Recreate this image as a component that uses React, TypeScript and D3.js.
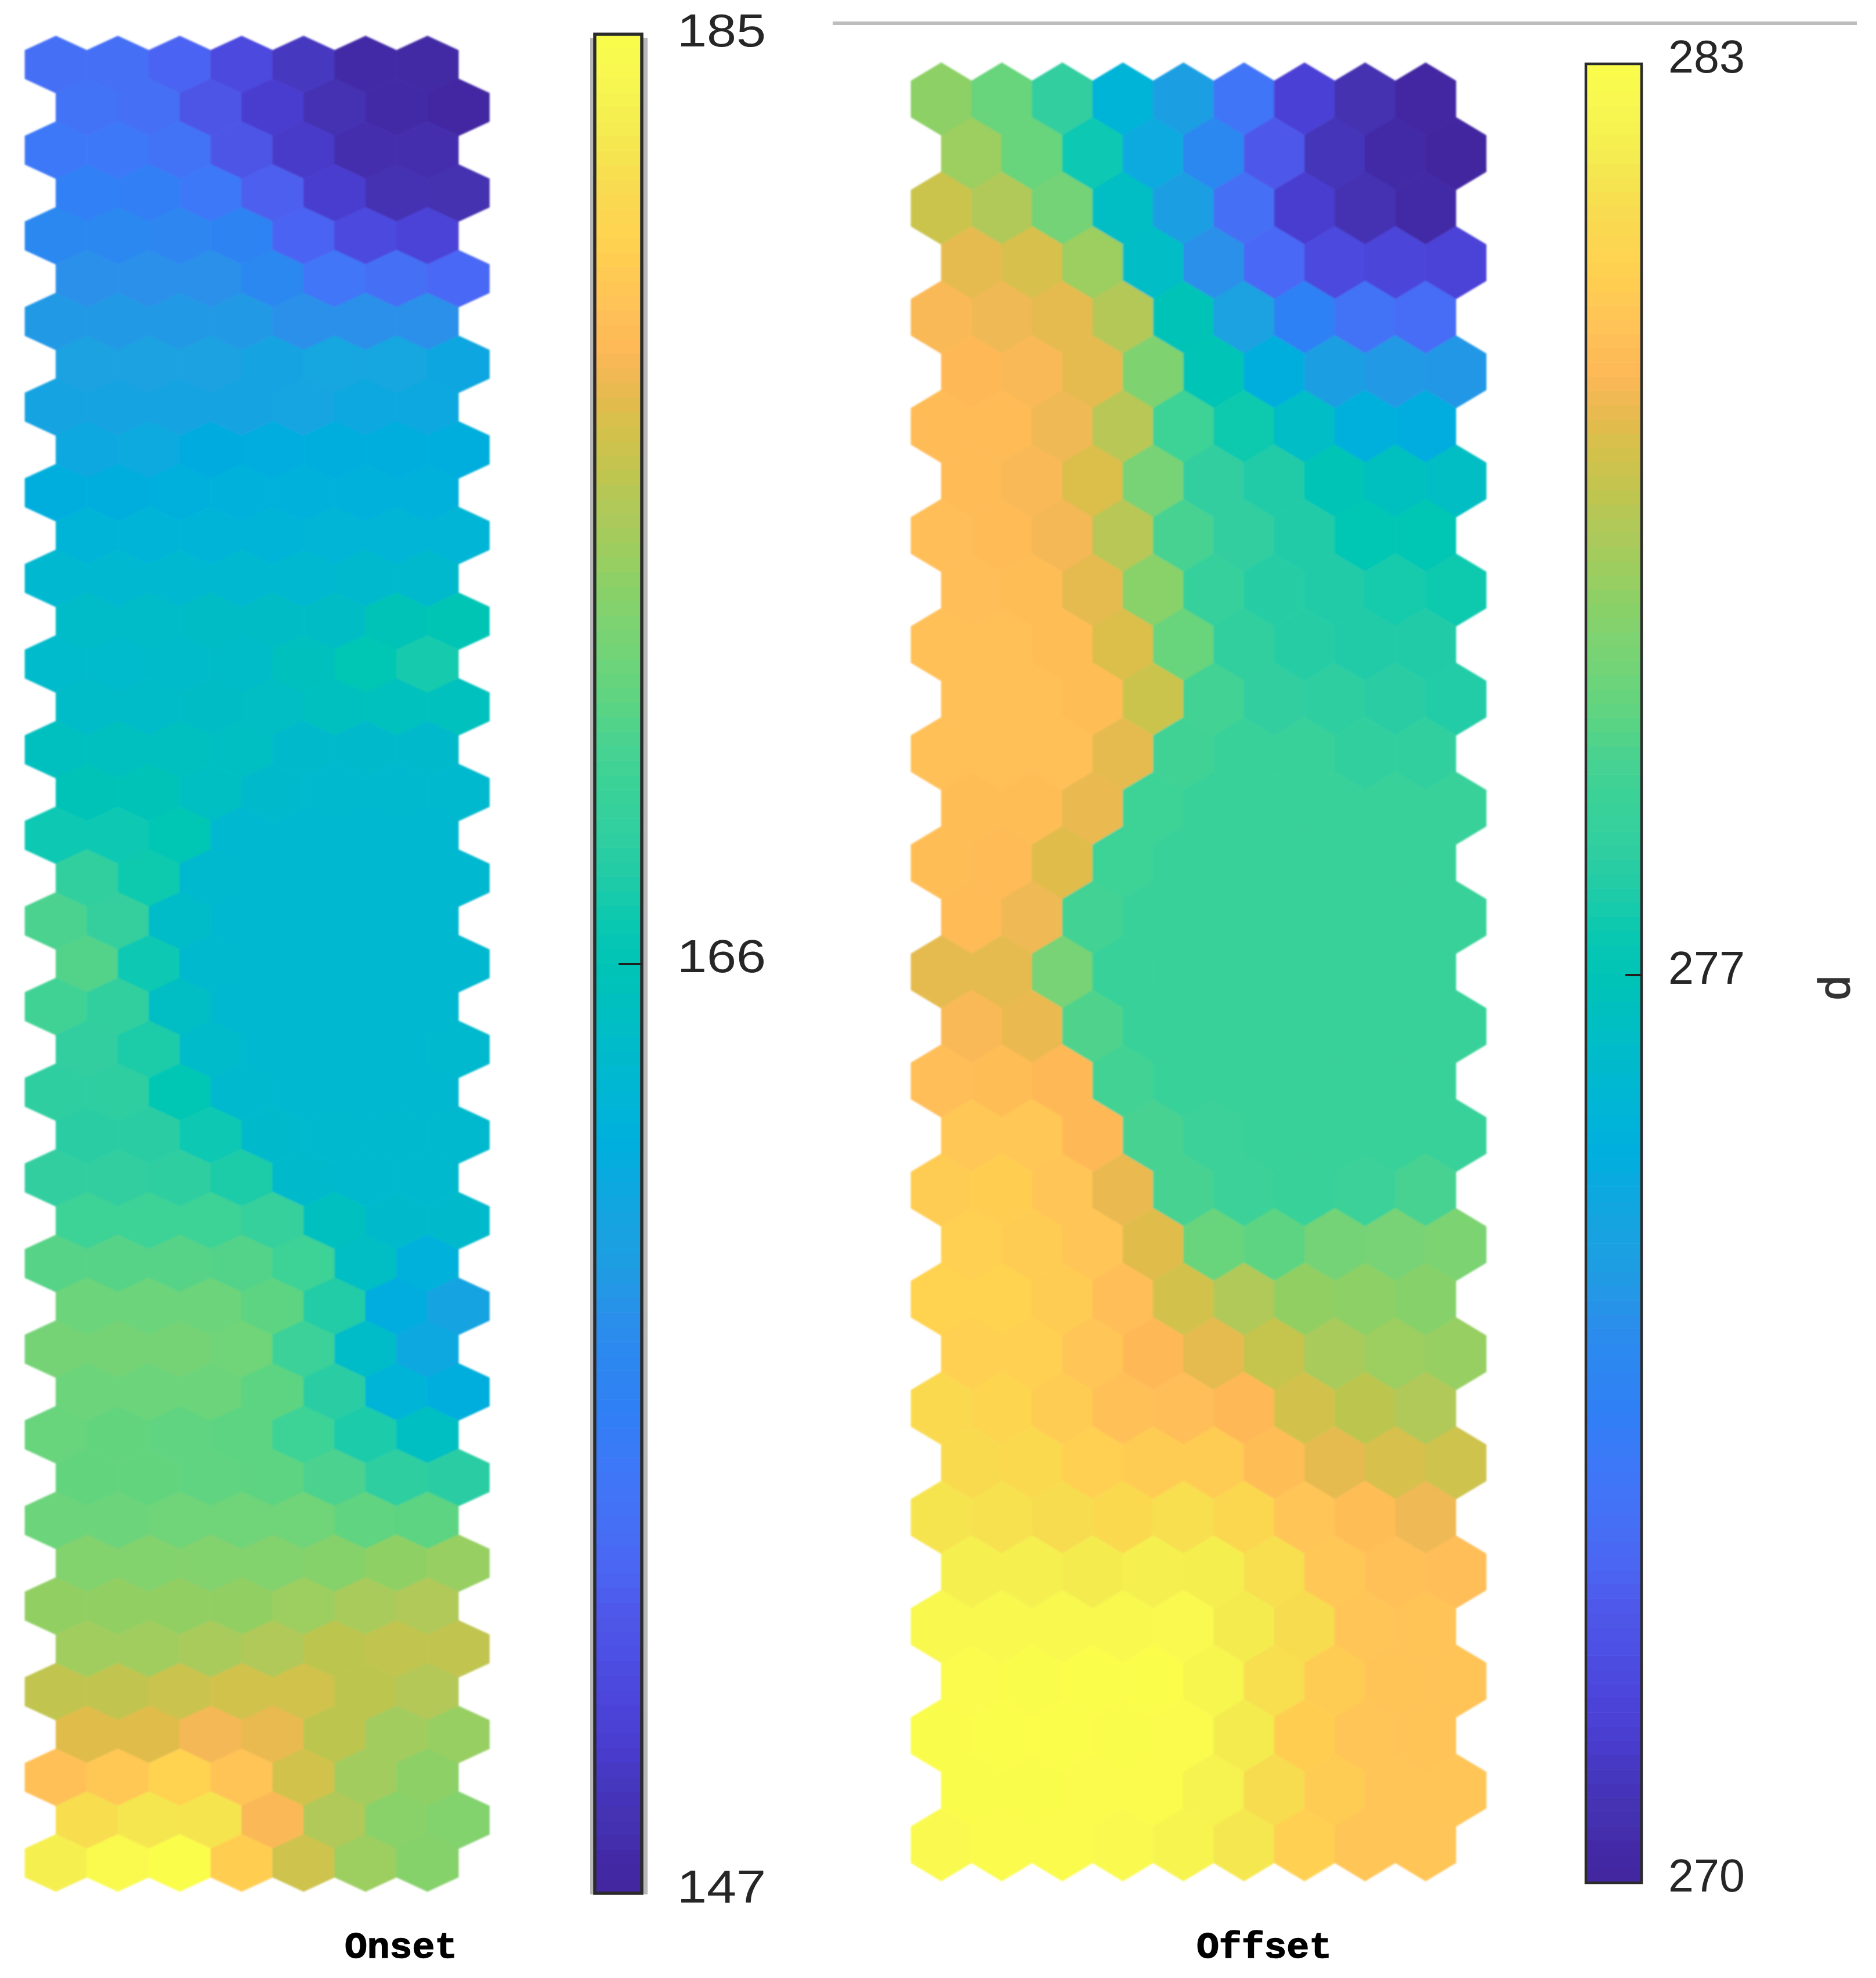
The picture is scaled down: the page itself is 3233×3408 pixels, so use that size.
import React from "react";
import * as d3 from "d3";

const onsetDomain = [147, 185];
const offsetDomain = [270, 283];
const onsetTicks = ["147", "166", "185"];
const offsetTicks = ["270", "277", "283"];

const onsetRows: number[][] = [
  [154.6,154.6,153.5,151.2,149.3,147.8,147.6],
  [155,154.6,152.3,150,148.5,147.8,147.4],
  [155.7,155.7,155,152.3,149.7,148.1,148.1],
  [156.9,156.7,155.7,153.1,150,148.5,148.3],
  [158,158,157.8,157.3,153.5,151.2,150.6],
  [158.8,158.8,158.8,158,155.4,154.6,153.8],
  [159.5,159.5,159.5,159.5,158.8,158.8,158.8],
  [160.3,160.3,160.3,160.7,161,161,161.1],
  [160.7,160.7,160.7,160.7,160.9,161.4,161.4],
  [161.4,161.6,161.8,162,162.2,162.2,162.2],
  [162.2,162.2,162.4,162.6,162.6,162.6,162.6],
  [163,163,163,163,163.2,163.2,163.2],
  [163.7,163.7,163.7,163.7,163.7,164,164],
  [164.5,164.5,164.7,164.7,164.7,165.8,166.2],
  [164.2,164.2,164.3,164.5,165.3,166.4,167.2],
  [164.5,164.5,164.7,164.9,165.2,165.4,165.4],
  [165.2,165.2,165.2,165,164.1,164.1,164.1],
  [165.8,165.8,165,164.1,163.9,163.9,163.9],
  [166.8,166.8,166.4,163.7,163.7,163.7,163.7],
  [168.9,167.1,163.9,163.7,163.7,163.7,163.7],
  [170.6,169,164.5,163.7,163.7,163.7,163.7],
  [170.9,166.8,163.9,163.7,163.7,163.7,163.7],
  [170,168.9,164.9,163.7,163.7,163.7,163.7],
  [168.7,167.7,164.3,163.7,163.7,163.7,163.9],
  [168.5,168.5,166.6,163.9,163.7,163.7,163.7],
  [168.3,168.3,166.8,164.1,163.9,163.9,163.9],
  [168.7,168.7,168.5,167.7,164.1,163.9,163.9],
  [169.8,169.8,169.8,169.2,165.2,164.1,164.1],
  [171.1,171.1,171.1,170.9,169.8,164.9,162.6],
  [172.1,172.1,172.1,171.3,167.9,162,160.7],
  [172.5,172.5,172.5,172.3,169.6,164.5,161.3],
  [172.1,172.1,172.1,171.3,168.3,163,162.2],
  [171.9,171.7,171.5,171.3,169.8,167.5,165],
  [171.7,171.7,171.5,171.3,170.6,168.5,168.3],
  [172.1,172.1,172.3,172.3,172.3,171.5,171.3],
  [173.2,173.2,173.2,173.2,173.4,173.9,174.2],
  [174,174,174,174,174.4,175,175.3],
  [174.6,174.6,175,175.3,175.9,176.1,176.1],
  [176.1,176.1,176.5,176.8,176.8,175.9,175.5],
  [177.4,177.4,178.2,177.7,175.9,174.7,174.2],
  [179.3,179.9,180.8,179.5,176.8,174.7,173.8],
  [182,182.7,182.5,178.4,175.3,173.6,173.2],
  [183.5,184.6,185,180.4,176.6,174.4,173.4],
];

const offsetRows: number[][] = [
  [279.17,278.52,277.41,275.46,274.42,272.8,271.17,270.46,270.13],
  [279.36,278.52,276.76,275.01,273.77,271.95,270.65,270.26,270.07],
  [280.08,279.69,278.71,276.11,274.42,272.6,271.04,270.52,270.26],
  [280.47,280.27,279.36,276.05,274.03,272.34,271.43,271.3,271.24],
  [280.73,280.6,280.47,279.75,276.44,274.55,273.45,272.73,272.47],
  [280.79,280.73,280.47,278.91,276.5,275.2,274.42,274.29,274.23],
  [280.86,280.86,280.6,279.82,277.8,276.89,276.05,275.27,275.14],
  [280.86,280.73,280.34,278.78,277.41,277.09,276.5,276.24,276.11],
  [280.99,280.86,280.66,279.82,277.99,277.41,277.09,276.63,276.63],
  [280.99,280.92,280.47,279.1,277.61,277.22,277.09,276.96,276.89],
  [281.05,281.05,280.92,280.34,278.52,277.48,277.22,277.09,277.09],
  [281.05,281.05,280.92,280.08,277.93,277.41,277.35,277.28,277.15],
  [281.05,281.05,281.05,280.47,277.87,277.67,277.67,277.48,277.48],
  [280.92,280.92,280.53,277.8,277.67,277.67,277.67,277.67,277.67],
  [280.92,280.86,280.4,277.8,277.67,277.67,277.67,277.67,277.67],
  [280.86,280.6,277.93,277.67,277.67,277.67,277.67,277.67,277.67],
  [280.47,280.47,278.78,277.67,277.67,277.67,277.67,277.67,277.67],
  [280.73,280.53,278.13,277.67,277.67,277.67,277.67,277.67,277.67],
  [280.99,280.92,280.79,277.93,277.67,277.67,277.67,277.67,277.67],
  [281.25,281.25,280.79,277.99,277.74,277.67,277.67,277.67,277.67],
  [281.38,281.44,281.18,280.53,277.99,277.74,277.67,277.74,277.99],
  [281.51,281.38,281.18,280.4,278.52,278.32,278.71,278.78,278.84],
  [281.57,281.57,281.38,280.99,280.21,279.69,279.23,279.17,279.04],
  [281.51,281.51,281.18,280.79,280.47,280.01,279.56,279.36,279.3],
  [281.83,281.7,281.38,281.05,280.99,280.79,280.21,279.88,279.69],
  [281.9,281.83,281.51,281.38,281.38,280.92,280.47,280.27,280.14],
  [282.16,282.09,281.96,281.83,282.03,281.77,281.18,280.92,280.6],
  [282.48,282.48,282.35,282.48,282.42,282.03,281.25,281.05,280.99],
  [282.74,282.74,282.74,282.74,282.81,282.35,281.96,281.18,281.12],
  [282.87,282.94,283,283,282.68,282.03,281.38,281.12,281.12],
  [282.94,283,283,282.94,282.87,282.35,281.44,281.18,281.12],
  [282.94,282.94,282.87,282.87,282.55,281.96,281.38,281.18,281.18],
  [282.81,282.87,282.87,282.81,282.61,282.22,281.51,281.18,281.18],
];

const cmapStops = [0, 0.005, 0.02, 0.03, 0.05, 0.08, 0.11, 0.15, 0.18, 0.2, 0.23, 0.26, 0.29, 0.31, 0.34, 0.37, 0.4, 0.42, 0.46, 0.5, 0.52, 0.55, 0.57, 0.6, 0.62, 0.64, 0.66, 0.69, 0.705, 0.72, 0.75, 0.76, 0.785, 0.8, 0.82, 0.83, 0.85, 0.875, 0.89, 0.92, 0.95, 0.98, 1];
const cmapColors = ["#41259E", "#4228A0", "#4329A6", "#4430AE", "#4534B8", "#4A3DD0", "#4C48DE", "#4E58EA", "#4A68F5", "#4570F5", "#3C78F8", "#3080F5", "#2C88F0", "#2A90EA", "#1E9EE2", "#12A6E0", "#00AEDE", "#00B4D8", "#00BCC8", "#00C4B6", "#08C8B2", "#24CCA6", "#30CEA0", "#3CD296", "#4AD290", "#5CD482", "#6CD47A", "#82D26E", "#8CD066", "#9CCE60", "#B4C858", "#BCC650", "#D2C24C", "#E0BC4C", "#F4B856", "#FEB956", "#FFC058", "#FFCC52", "#FFD250", "#F8DC50", "#F4EC50", "#F8F850", "#FBFD4B"];
const cmap = d3.scaleLinear<string>().domain(cmapStops).range(cmapColors).interpolate(d3.interpolateRgb).clamp(true);

const FONT_SANS = "'Liberation Sans', Arial, sans-serif";
const FONT_MONO = "'Liberation Mono', 'DejaVu Sans Mono', monospace";
const levels = d3.range(128);

function Panel({ rows, domain, ticks, title, g }: any) {
  const nRows = rows.length;
  const nCols = rows[0].length;
  const xs = d3.scaleLinear().domain([0, nCols]).range([g.hexLeft, g.hexRight]);
  const cw = xs(1) - xs(0);
  const ys = d3.scaleLinear().domain([0, nRows - 1]).range([g.hexTop + g.hexH / 2, g.hexBottom - g.hexH / 2]);
  const t = d3.scaleLinear().domain(domain).range([0, 1]);
  const hex = (cx: number, cy: number) => {
    const w = cw / 2, h = g.hexH / 2;
    const pts: [number, number][] = [[cx, cy - h], [cx + w, cy - h / 2], [cx + w, cy + h / 2], [cx, cy + h], [cx - w, cy + h / 2], [cx - w, cy - h / 2]];
    return d3.line()(pts) + "Z";
  };
  const yBar = d3.scaleLinear().domain([0, levels.length]).range([g.barBottom, g.barTop]);
  return (
    <g>
      {g.shadow && (
        <g fill="#b8b8b8">
          <rect x={g.barLeft - 8} y={g.barTop + 6} width={6} height={g.barBottom - g.barTop - 4} />
          <rect x={g.barRight + 2} y={g.barTop + 6} width={8} height={g.barBottom - g.barTop - 4} />
        </g>
      )}
      <g filter="url(#soft)">
        {rows.map((row: number[], r: number) =>
          row.map((v: number, c: number) => {
            const col = cmap(t(v));
            const cx = xs(c) + cw / 2 + (r % 2 ? cw / 2 : 0);
            return <path key={r + "-" + c} d={hex(cx, ys(r))} fill={col} stroke={col} strokeWidth={0.8} />;
          })
        )}
      </g>
      {levels.map((i) => (
        <rect key={i} x={g.barLeft} width={g.barRight - g.barLeft} y={yBar(i + 1)} height={yBar(i) - yBar(i + 1) + 0.6} fill={cmap((i + 0.5) / levels.length)} />
      ))}
      <rect x={g.barLeft} y={g.barTop} width={g.barRight - g.barLeft} height={g.barBottom - g.barTop} fill="none" stroke="#2b2b2b" strokeWidth={g.barStroke} />
      <line x1={g.tickX} x2={g.barRight} y1={g.tickY} y2={g.tickY} stroke="#1f1f1f" strokeWidth={4} />
      {ticks.map((s: string, i: number) => (
        <text key={s} x={g.labelX} y={g.labelY[i]} fontFamily={FONT_SANS} fontSize={79} fill="#262626" textLength={g.labelW} lengthAdjust="spacingAndGlyphs">{s}</text>
      ))}
      <text x={g.titleX} y={3373} fontFamily={FONT_MONO} fontWeight="bold" fontSize={63} fill="#000" stroke="#000" strokeWidth={1.5} textLength={g.titleW} lengthAdjust="spacingAndGlyphs">{title}</text>
    </g>
  );
}

const onsetGeom = { hexLeft: 43, hexRight: 790, hexTop: 62, hexBottom: 3259, hexH: 98.4, barLeft: 1025, barRight: 1106, barTop: 59, barBottom: 3262, barStroke: 5.5, shadow: true, tickX: 1066, tickY: 1661, labelX: 1167, labelY: [3278, 1675, 80], labelW: 153, titleX: 594, titleW: 194 };
const offsetGeom = { hexLeft: 1570, hexRight: 2509, hexTop: 108, hexBottom: 3241, hexH: 125.3, barLeft: 2733, barRight: 2829, barTop: 110, barBottom: 3244, barStroke: 4.5, shadow: false, tickX: 2801, tickY: 1680, labelX: 2875, labelY: [3259, 1695, 125], labelW: 132, titleX: 2062, titleW: 233 };

export default function App() {
  return (
    <svg width={3233} height={3408} viewBox="0 0 3233 3408" style={{ position: "absolute", left: 0, top: 0, display: "block", background: "#fff" }}>
      <defs>
        <filter id="soft" x="-2%" y="-2%" width="104%" height="104%">
          <feGaussianBlur stdDeviation="1.5" />
        </filter>
      </defs>
      <rect x={1435} y={37} width={1765} height={6} fill="#bdbdbd" />
      <Panel rows={onsetRows} domain={onsetDomain} ticks={onsetTicks} title="Onset" g={onsetGeom} />
      <Panel rows={offsetRows} domain={offsetDomain} ticks={offsetTicks} title="Offset" g={offsetGeom} />
      <text transform="translate(3187,1702) rotate(-90)" textAnchor="middle" fontFamily={FONT_SANS} fontSize={76} fill="#333" stroke="#333" strokeWidth={1.5}>d</text>
    </svg>
  );
}
